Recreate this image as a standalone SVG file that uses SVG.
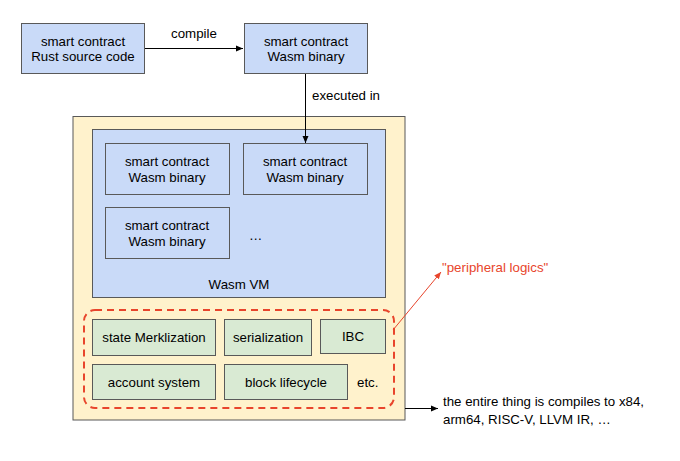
<svg xmlns="http://www.w3.org/2000/svg" width="680" height="461" viewBox="0 0 680 461">
<style>
text{font-family:"Liberation Sans",Arial,sans-serif;font-size:13.3px;fill:#000}
.c{text-anchor:middle}
.blue{fill:#c9daf8;stroke:#595959;stroke-width:1}
.green{fill:#d9ead3;stroke:#595959;stroke-width:1}
.yellow{fill:#fff2cc;stroke:#595959;stroke-width:1}
.line{fill:none;stroke:#000;stroke-width:1}
.red{fill:none;stroke:#e8452c;stroke-width:1}
</style>
<defs>
<marker id="ah" markerWidth="8" markerHeight="8" refX="7" refY="4" orient="auto" markerUnits="userSpaceOnUse">
<path d="M0,1 L7,4 L0,7 z" fill="#000"/>
</marker>
<marker id="ahr" markerWidth="8" markerHeight="8" refX="7" refY="4" orient="auto" markerUnits="userSpaceOnUse">
<path d="M0,1 L7,4 L0,7 z" fill="#e8452c"/>
</marker>
</defs>
<rect width="680" height="461" fill="#fff"/>
<g id="runtime">
<rect class="yellow" x="73" y="116.5" width="332" height="303.5"/>
</g>
<g id="wasmvm">
<rect class="blue" x="92.5" y="129.5" width="293" height="168"/>
<text class="c" x="239" y="289">Wasm VM</text>
</g>
<g id="rust">
<rect class="blue" x="21.5" y="23.5" width="123" height="50"/>
<text class="c" x="83" y="45.5">smart contract</text>
<text class="c" x="83" y="61">Rust source code</text>
</g>
<g id="wasm">
<rect class="blue" x="244.5" y="23.5" width="123" height="50"/>
<text class="c" x="306" y="45.5">smart contract</text>
<text class="c" x="306" y="61">Wasm binary</text>
</g>
<g id="wasmA">
<rect class="blue" x="105.5" y="143.5" width="124" height="51"/>
<text class="c" x="167" y="166">smart contract</text>
<text class="c" x="167" y="181.5">Wasm binary</text>
</g>
<g id="wasmB">
<rect class="blue" x="243.5" y="143.5" width="124" height="51"/>
<text class="c" x="305" y="166">smart contract</text>
<text class="c" x="305" y="181.5">Wasm binary</text>
</g>
<g id="wasmC">
<rect class="blue" x="105.5" y="207.5" width="124" height="51"/>
<text class="c" x="167" y="230">smart contract</text>
<text class="c" x="167" y="245.5">Wasm binary</text>
</g>
<g id="more">
<text x="249" y="240">…</text>
</g>
<g id="peripheral">
<rect x="84" y="310" width="310" height="98" rx="11" ry="11" fill="none" stroke="#e8452c" stroke-width="2" stroke-dasharray="7,5"/>
</g>
<g id="merkle">
<rect class="green" x="92.5" y="319.5" width="123" height="36"/>
<text class="c" x="154" y="342">state Merklization</text>
</g>
<g id="serial">
<rect class="green" x="224.5" y="319.5" width="87" height="36"/>
<text class="c" x="268" y="342">serialization</text>
</g>
<g id="ibc">
<rect class="green" x="320.5" y="319.5" width="65" height="34"/>
<text class="c" x="353" y="341">IBC</text>
</g>
<g id="account">
<rect class="green" x="92.5" y="364.5" width="123" height="35"/>
<text class="c" x="154" y="387">account system</text>
</g>
<g id="block">
<rect class="green" x="224.5" y="364.5" width="123" height="35"/>
<text class="c" x="286" y="387">block lifecycle</text>
</g>
<g id="etc">
<text x="357" y="387">etc.</text>
</g>
<g id="peripheral-label">
<text x="442" y="272" style="fill:#e8452c">"peripheral logics"</text>
</g>
<g id="output-label">
<text x="443" y="406">the entire thing is compiles to x84,</text>
<text x="443" y="424">arm64, RISC-V, LLVM IR, …</text>
</g>
<g id="connectors">
<line class="line" x1="145" y1="48.5" x2="243" y2="48.5" marker-end="url(#ah)"/>
<text class="c" x="194" y="38">compile</text>
<line class="line" x1="305.5" y1="74" x2="305.5" y2="143" marker-end="url(#ah)"/>
<text x="312" y="100">executed in</text>
<line class="red" x1="393" y1="330" x2="441" y2="272" marker-end="url(#ahr)"/>
<line class="line" x1="405" y1="408.5" x2="438" y2="408.5" marker-end="url(#ah)"/>
</g>
</svg>
